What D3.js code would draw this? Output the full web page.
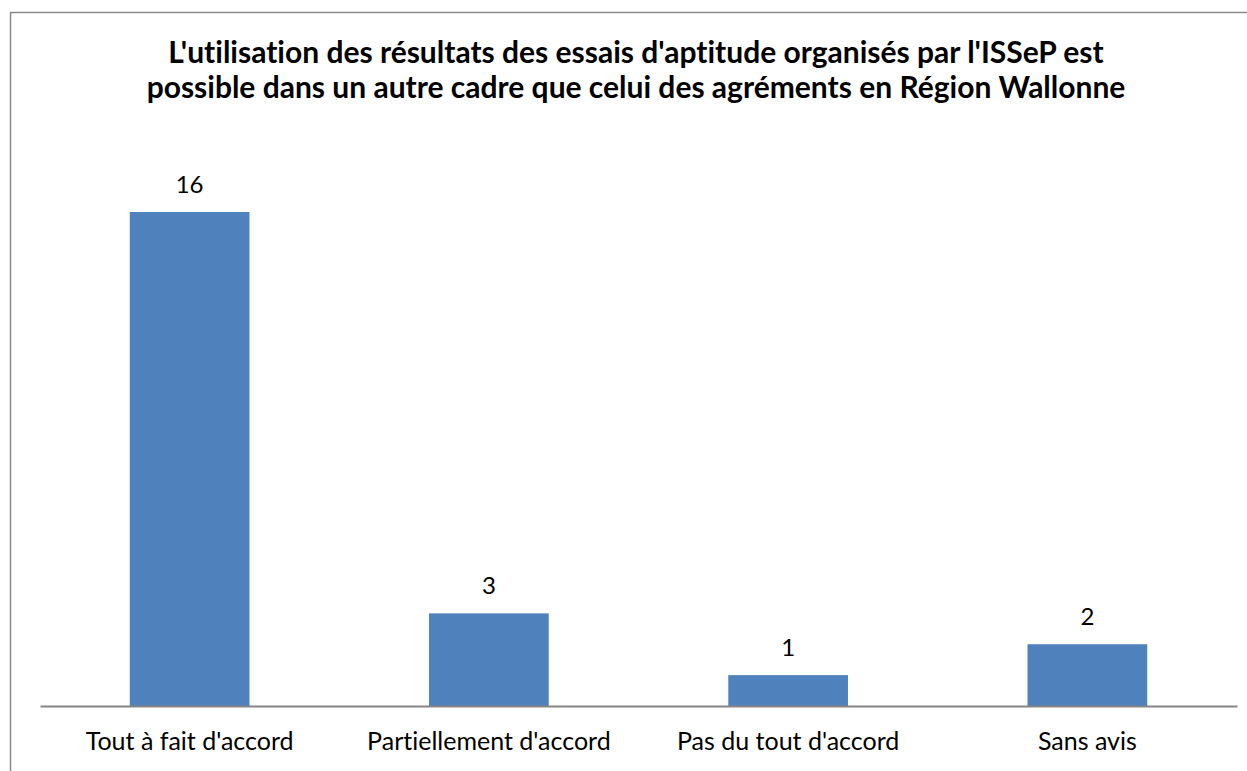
<!doctype html>
<html>
<head>
    <title>Essais d'aptitude ISSeP</title>
    <script src="https://d3js.org/d3.v7.min.js"></script>
    <style>
      body {
        padding: 0px;
        margin: 0px;
        background: #fff;
      }
      text {
        font-family: Lato, "Open Sans", sans-serif;
        font-variant-ligatures: none;
        fill: #000;
      }
      .title {
        font-weight: bold;
        font-size: 30px;
      }
      .cat {
        font-size: 25px;
      }
      .val {
        font-size: 24px;
      }
    </style>
</head>
<body>
  <div id="container"></div>
  <script>

  var categories = ["Tout à fait d'accord", "Partiellement d'accord", "Pas du tout d'accord", "Sans avis"]
  var values = [16, 3, 1, 2]
  var titleLines = [
    "L'utilisation des résultats des essais d'aptitude organisés par l'ISSeP est",
    "possible dans un autre cadre que celui des agréments en Région Wallonne"
  ]

  var vizWidth = 1247,
      vizHeight = 771
  var margin = {top: 212, right: 10, bottom: 65, left: 40},
      plotWidth = vizWidth - margin.left - margin.right,
      plotHeight = vizHeight - margin.top - margin.bottom

  var viz = d3.select("#container").append("svg")
              .attr("width", vizWidth)
              .attr("height", vizHeight)

  // chart frame (runs off the right and bottom edge)
  viz.append("rect")
      .attr("x", 10.5).attr("y", 12.5)
      .attr("width", vizWidth).attr("height", vizHeight)
      .attr("fill", "none")
      .attr("stroke", "#8a8a8a")
      .attr("stroke-width", 1.5)

  viz.append("text")
      .attr("class", "title")
      .attr("text-anchor", "middle")
      .selectAll("tspan").data(titleLines)
      .enter().append("tspan")
      .attr("x", 636)
      .attr("y", function(d, i) { return 63 + i * 35 })
      .text(function(d) { return d })

  var plot = viz.append("g")
      .attr("transform", "translate(" + margin.left + "," + margin.top + ")")

  var x = d3.scaleBand()
      .domain(categories)
      .range([0, plotWidth])
      .paddingInner(0.6)
      .paddingOuter(0.3)

  var y = d3.scaleLinear()
      .domain([0, 16])
      .range([plotHeight, 0])

  plot.selectAll("rect.bar").data(values)
      .enter().append("rect")
      .attr("class", "bar")
      .attr("x", function(d, i) { return x(categories[i]) })
      .attr("y", function(d) { return y(d) })
      .attr("width", x.bandwidth())
      .attr("height", function(d) { return plotHeight - y(d) })
      .attr("fill", "#4f81bd")

  plot.selectAll("text.val").data(values)
      .enter().append("text")
      .attr("class", "val")
      .attr("text-anchor", "middle")
      .attr("x", function(d, i) { return x(categories[i]) + x.bandwidth() / 2 })
      .attr("y", function(d) { return y(d) - 19 })
      .text(function(d) { return d })

  var xAxis = plot.append("g")
      .attr("transform", "translate(0," + plotHeight + ")")
      .call(d3.axisBottom(x).tickSize(0).tickPadding(26))
  xAxis.select(".domain").attr("stroke", "#868686").attr("stroke-width", 2)
  xAxis.selectAll("text")
      .attr("class", "cat")
      .attr("font-family", null)
      .attr("font-size", null)
      .attr("fill", "#000")
      .attr("dy", "0.71em")

  </script>
</body>
</html>
